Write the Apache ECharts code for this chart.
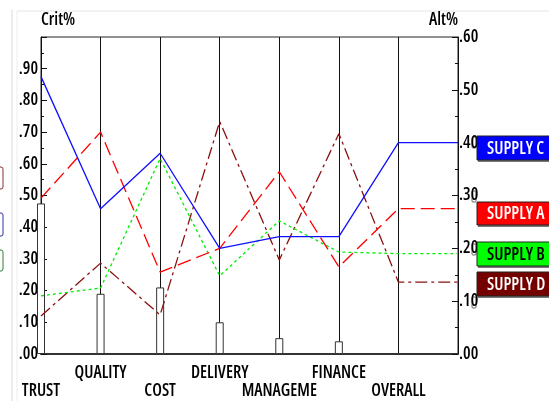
<!DOCTYPE html>
<html>
<head>
<meta charset="utf-8">
<script src="https://cdn.jsdelivr.net/npm/echarts@6/dist/echarts.min.js"></script>
<style>
html,body{margin:0;padding:0;background:#fff;}
#main{width:549px;height:401px;}
</style>
</head>
<body>
<div id="main"></div>
<script>
var categories = ['TRUST', 'QUALITY', 'COST', 'DELIVERY', 'MANAGEME', 'FINANCE', 'OVERALL', ''];
var critWeights = [0.475, 0.19, 0.21, 0.10, 0.05, 0.04];
var supplyC = [0.525, 0.275, 0.38, 0.20, 0.222, 0.222, 0.40, 0.40];
var supplyA = [0.295, 0.42, 0.155, 0.20, 0.345, 0.165, 0.275, 0.275];
var supplyB = [0.11, 0.125, 0.37, 0.148, 0.252, 0.193, 0.19, 0.19];
var supplyD = [0.072, 0.172, 0.074, 0.44, 0.178, 0.417, 0.136, 0.136];
var seriesNames = ['SUPPLY C', 'SUPPLY A', 'SUPPLY B', 'SUPPLY D'];
var leftTicks = { min: 0, max: 1.0, interval: 0.1 };
var rightTicks = { min: 0, max: 0.6, interval: 0.1 };

var FAM = '"Open Sans", "DejaVu Sans Condensed", sans-serif';
var STRETCH = 'condensed';
var WEIGHT = 600;
function fmt(v) { return v.toFixed(2).replace(/^0/, ''); }

function lineSeries(name, data, color, dash, z) {
  return {
    name: name,
    type: 'line',
    yAxisIndex: 1,
    data: data,
    symbol: 'none',
    z: z,
    clip: false,
    lineStyle: { color: color, width: 1.3, type: dash }
  };
}

function legendBox(name, y, h, bg, fg) {
  return {
    type: 'group',
    z: 100,
    children: [
      { type: 'rect', shape: { x: 478, y: y + 2, width: 80, height: h }, style: { fill: '#777' }, z: 100 },
      { type: 'rect', shape: { x: 477, y: y, width: 80, height: h }, style: { fill: bg, stroke: '#222', lineWidth: 1 }, z: 101 },
      { type: 'text', style: { text: name, x: 487, y: y + h / 2 + 1, font: STRETCH + ' ' + WEIGHT + ' 17px ' + FAM, fill: fg, textVerticalAlign: 'middle' }, z: 102 }
    ]
  };
}

var lblBase = { fontStyle: STRETCH, fontWeight: WEIGHT, fontFamily: FAM, color: '#000' };

var chart = echarts.init(document.getElementById('main'));
chart.setOption({
  animation: false,
  backgroundColor: '#fff',
  grid: { left: 41, right: 91, top: 37, bottom: 47, show: true, borderColor: '#222', borderWidth: 1, backgroundColor: 'transparent' },
  xAxis: {
    type: 'category',
    data: categories,
    boundaryGap: false,
    axisTick: { show: false },
    axisLine: { lineStyle: { color: '#333', width: 2 } },
    splitLine: { show: true, lineStyle: { color: '#111', width: 1 } },
    axisLabel: Object.assign({}, lblBase, {
      interval: 0,
      margin: 10,
      fontSize: 17,
      lineHeight: 18,
      formatter: function (v, i) { return i % 2 === 0 ? '\n' + v : v; }
    })
  },
  yAxis: [
    {
      type: 'value',
      min: leftTicks.min, max: leftTicks.max, interval: leftTicks.interval,
      name: 'Crit%',
      nameLocation: 'end',
      nameGap: 8,
      nameTextStyle: Object.assign({}, lblBase, { align: 'left', fontSize: 17 }),
      axisLine: { show: true, lineStyle: { color: '#111', width: 1 } },
      axisTick: { show: true, inside: true, length: 6, lineStyle: { color: '#111' } },
      minorTick: { show: true, splitNumber: 2, length: 3, lineStyle: { color: '#111' } },
      splitLine: { show: false },
      axisLabel: Object.assign({}, lblBase, { formatter: fmt, showMaxLabel: false, margin: 3, fontSize: 17 })
    },
    {
      type: 'value',
      position: 'right',
      min: rightTicks.min, max: rightTicks.max, interval: rightTicks.interval,
      name: 'Alt%',
      nameLocation: 'end',
      nameGap: 7,
      nameTextStyle: Object.assign({}, lblBase, { align: 'right', fontSize: 17 }),
      axisLine: { show: true, lineStyle: { color: '#111', width: 1 } },
      axisTick: { show: true, inside: true, length: 6, lineStyle: { color: '#111' } },
      minorTick: { show: true, splitNumber: 2, length: 3, lineStyle: { color: '#111' } },
      splitLine: { show: false },
      axisLabel: Object.assign({}, lblBase, { formatter: fmt, margin: 1, fontSize: 17 })
    }
  ],
  series: [
    {
      name: 'Crit',
      type: 'bar',
      yAxisIndex: 0,
      data: critWeights,
      barWidth: 8,
      clip: false,
      z: 1,
      itemStyle: { color: '#fff', borderColor: '#333', borderWidth: 1 }
    },
    lineSeries(seriesNames[3], supplyD, '#8b1010', [12, 4, 3, 4], 2),
    lineSeries(seriesNames[2], supplyB, '#00ee00', [3, 3], 3),
    lineSeries(seriesNames[1], supplyA, '#ff0000', [14, 6], 4),
    lineSeries(seriesNames[0], supplyC, '#1010ff', 'solid', 5)
  ],
  graphic: [
    { type: 'line', shape: { x1: 12, y1: 10, x2: 12, y2: 401 }, style: { stroke: '#d8d8d8', lineWidth: 1 } },
    { type: 'line', shape: { x1: 17, y1: 11, x2: 17, y2: 401 }, style: { stroke: '#ececec', lineWidth: 1 } },
    { type: 'line', shape: { x1: 17, y1: 11, x2: 549, y2: 11 }, style: { stroke: '#e4e4e4', lineWidth: 1 } },
    { type: 'rect', shape: { x: -8, y: 167, width: 11, height: 22, r: 2 }, style: { fill: '#fff', stroke: '#8b3030', lineWidth: 1 } },
    { type: 'rect', shape: { x: -8, y: 213, width: 11, height: 23, r: 2 }, style: { fill: '#fff', stroke: '#3030a0', lineWidth: 1 } },
    { type: 'rect', shape: { x: -8, y: 250, width: 11, height: 21, r: 2 }, style: { fill: '#fff', stroke: '#308030', lineWidth: 1 } },
    { type: 'rect', shape: { x: 472, y: 137, width: 4, height: 11, r: 1 }, style: { fill: '#fff', stroke: '#666', lineWidth: 1 } },
    { type: 'rect', shape: { x: 472, y: 191, width: 4, height: 11, r: 1 }, style: { fill: '#fff', stroke: '#666', lineWidth: 1 } },
    { type: 'rect', shape: { x: 472, y: 244, width: 4, height: 11, r: 1 }, style: { fill: '#fff', stroke: '#666', lineWidth: 1 } },
    { type: 'rect', shape: { x: 472, y: 297, width: 4, height: 11, r: 1 }, style: { fill: '#fff', stroke: '#666', lineWidth: 1 } },
    legendBox(seriesNames[0], 136, 24, '#0000ff', '#fff'),
    legendBox(seriesNames[1], 202, 23, '#ff0000', '#fff'),
    legendBox(seriesNames[2], 242, 24, '#00ff00', '#000'),
    legendBox(seriesNames[3], 272, 24, '#740000', '#fff')
  ]
});
</script>
</body>
</html>
